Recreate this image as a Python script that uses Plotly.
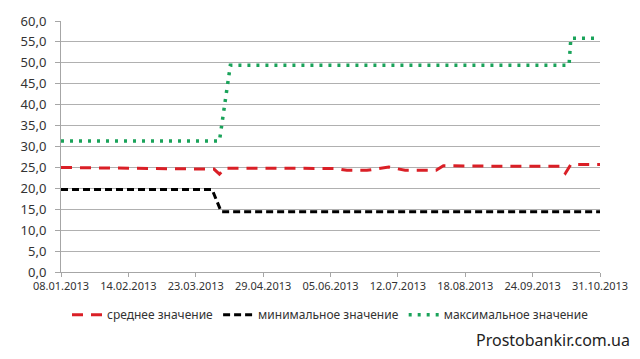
import plotly.graph_objects as go
from datetime import datetime

# ---- data ----
tick_labels = ["08.01.2013", "14.02.2013", "23.03.2013", "29.04.2013", "05.06.2013",
               "12.07.2013", "18.08.2013", "24.09.2013", "31.10.2013"]

avg_dates = ["2013-01-08", "2013-01-29", "2013-02-05", "2013-02-26", "2013-03-26",
             "2013-04-02", "2013-04-05", "2013-04-08", "2013-05-01", "2013-06-08",
             "2013-06-14", "2013-06-25", "2013-07-07", "2013-07-16", "2013-08-02",
             "2013-08-06", "2013-09-01", "2013-10-09", "2013-10-12", "2013-10-15",
             "2013-10-31"]
avg_vals = [25.0, 25.0, 24.85, 24.75, 24.7, 24.6, 23.4, 24.8, 24.8, 24.75,
            24.3, 24.3, 25.1, 24.3, 24.3, 25.4, 25.3, 25.25, 23.6, 25.7, 25.7]

min_dates = ["2013-01-08", "2013-04-01", "2013-04-06", "2013-10-31"]
min_vals = [19.7, 19.7, 14.4, 14.4]

max_dates = ["2013-01-08", "2013-04-05", "2013-04-11", "2013-10-14", "2013-10-15", "2013-10-31"]
max_vals = [31.3, 31.3, 49.4, 49.4, 55.9, 55.9]

names = ["среднее значение", "минимальное значение", "максимальное значение"]

tick_vals = [datetime.strptime(t, "%d.%m.%Y").strftime("%Y-%m-%d") for t in tick_labels]

FONT = "Noto Sans"
fig = go.Figure()
fig.add_trace(go.Scatter(x=avg_dates, y=avg_vals, mode="lines", name=names[0],
                         line=dict(color="#DA1F26", width=3, dash="11px,8px")))
fig.add_trace(go.Scatter(x=min_dates, y=min_vals, mode="lines", name=names[1],
                         line=dict(color="#000000", width=3, dash="7px,4px")))
fig.add_trace(go.Scatter(x=max_dates, y=max_vals, mode="lines", name=names[2],
                         line=dict(color="#1AA35A", width=3.5, dash="3px,6px")))

fig.update_layout(
    width=640, height=359,
    margin=dict(l=61, r=34, t=20, b=87),
    paper_bgcolor="white", plot_bgcolor="white",
    separators=", ",
    font=dict(family=FONT, size=11, color="#333333"),
    showlegend=True,
    legend=dict(orientation="h", x=0.5, xanchor="center", y=-0.17, yanchor="middle",
                font=dict(family=FONT, size=12, color="#333333"),
                itemwidth=30),
    annotations=[dict(text="Prostobankir.com.ua", xref="paper", yref="paper",
                      x=1.06, xanchor="right", y=-0.27, yanchor="middle",
                      showarrow=False, font=dict(family=FONT, size=16, color="#222222"))],
)
fig.update_xaxes(type="date", range=[tick_vals[0], tick_vals[-1]],
                 tickvals=tick_vals, ticktext=tick_labels, tickangle=0,
                 showgrid=False, showline=True, linecolor="#A6A6A6", linewidth=1,
                 ticks="outside", ticklen=4, tickcolor="#A6A6A6",
                 tickfont=dict(family=FONT, size=11, color="#333333"))
fig.update_yaxes(range=[0, 60], dtick=5, tickformat=".1f",
                 showgrid=True, gridcolor="#B0B0B0", gridwidth=1,
                 showline=True, linecolor="#A6A6A6", linewidth=1,
                 ticks="outside", ticklen=5, tickcolor="#A6A6A6",
                 ticklabelstandoff=6, zeroline=False,
                 tickfont=dict(family=FONT, size=13, color="#333333"))

fig.write_html("out.html")
